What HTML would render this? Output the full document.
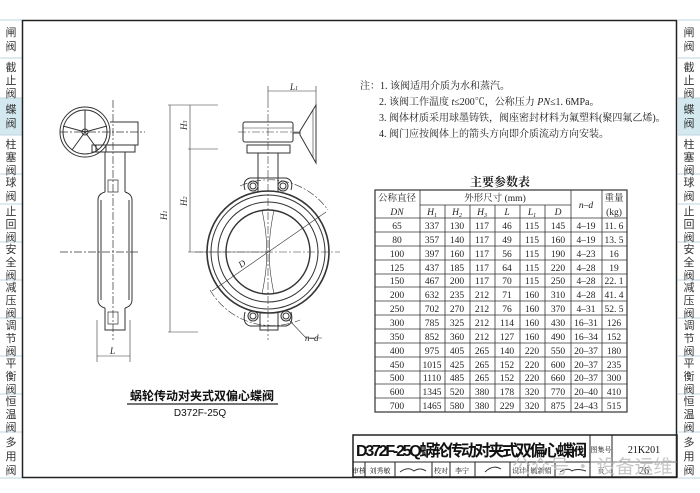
<!DOCTYPE html>
<html><head><meta charset="utf-8"><style>
html,body{margin:0;padding:0;background:#fff;}
body{width:700px;height:493px;overflow:hidden;position:relative;font-family:"Liberation Serif","Noto Serif CJK SC","Noto Sans CJK SC",serif;}
svg{position:absolute;left:0;top:0;}
</style></head><body>
<svg width="700" height="493" viewBox="0 0 700 493" xmlns="http://www.w3.org/2000/svg" font-family="'Liberation Serif','Noto Serif CJK SC','Noto Sans CJK SC',serif" fill="none" stroke="#333">
<!-- sidebars -->
<g id="sb">
<rect x="0" y="98" width="22" height="37" fill="#d3e8ef" stroke="none"/>
<rect x="678" y="98" width="22" height="37" fill="#d3e8ef" stroke="none"/>
<g stroke="#bcd6e0" stroke-width="1">
<line x1="0" y1="20" x2="22" y2="20"/><line x1="0" y1="58" x2="22" y2="58"/><line x1="0" y1="98" x2="22" y2="98"/><line x1="0" y1="135" x2="22" y2="135"/><line x1="0" y1="174" x2="22" y2="174"/><line x1="0" y1="204" x2="22" y2="204"/><line x1="0" y1="242" x2="22" y2="242"/><line x1="0" y1="280" x2="22" y2="280"/><line x1="0" y1="318" x2="22" y2="318"/><line x1="0" y1="356" x2="22" y2="356"/><line x1="0" y1="394" x2="22" y2="394"/><line x1="0" y1="432" x2="22" y2="432"/><line x1="0" y1="478" x2="22" y2="478"/>
<line x1="678" y1="20" x2="700" y2="20"/><line x1="678" y1="58" x2="700" y2="58"/><line x1="678" y1="98" x2="700" y2="98"/><line x1="678" y1="135" x2="700" y2="135"/><line x1="678" y1="174" x2="700" y2="174"/><line x1="678" y1="204" x2="700" y2="204"/><line x1="678" y1="242" x2="700" y2="242"/><line x1="678" y1="280" x2="700" y2="280"/><line x1="678" y1="318" x2="700" y2="318"/><line x1="678" y1="356" x2="700" y2="356"/><line x1="678" y1="394" x2="700" y2="394"/><line x1="678" y1="432" x2="700" y2="432"/><line x1="678" y1="478" x2="700" y2="478"/>
</g>
<g fill="#333" stroke="none" font-size="11" text-anchor="middle" font-family="'Noto Sans CJK SC',sans-serif">
<text x="11" y="36">闸</text><text x="11" y="50">阀</text>
<text x="11" y="71">截</text><text x="11" y="84">止</text><text x="11" y="97">阀</text>
<text x="11" y="113">蝶</text><text x="11" y="127">阀</text>
<text x="11" y="148">柱</text><text x="11" y="161">塞</text><text x="11" y="174">阀</text>
<text x="11" y="186">球</text><text x="11" y="200">阀</text>
<text x="11" y="215">止</text><text x="11" y="228">回</text><text x="11" y="241">阀</text>
<text x="11" y="253">安</text><text x="11" y="266">全</text><text x="11" y="279">阀</text>
<text x="11" y="291">减</text><text x="11" y="304">压</text><text x="11" y="317">阀</text>
<text x="11" y="329">调</text><text x="11" y="342">节</text><text x="11" y="355">阀</text>
<text x="11" y="367">平</text><text x="11" y="380">衡</text><text x="11" y="393">阀</text>
<text x="11" y="405">恒</text><text x="11" y="418">温</text><text x="11" y="431">阀</text>
<text x="11" y="446">多</text><text x="11" y="460">用</text><text x="11" y="474">阀</text>
<g transform="translate(678,0)">
<text x="11" y="36">闸</text><text x="11" y="50">阀</text>
<text x="11" y="71">截</text><text x="11" y="84">止</text><text x="11" y="97">阀</text>
<text x="11" y="113">蝶</text><text x="11" y="127">阀</text>
<text x="11" y="148">柱</text><text x="11" y="161">塞</text><text x="11" y="174">阀</text>
<text x="11" y="186">球</text><text x="11" y="200">阀</text>
<text x="11" y="215">止</text><text x="11" y="228">回</text><text x="11" y="241">阀</text>
<text x="11" y="253">安</text><text x="11" y="266">全</text><text x="11" y="279">阀</text>
<text x="11" y="291">减</text><text x="11" y="304">压</text><text x="11" y="317">阀</text>
<text x="11" y="329">调</text><text x="11" y="342">节</text><text x="11" y="355">阀</text>
<text x="11" y="367">平</text><text x="11" y="380">衡</text><text x="11" y="393">阀</text>
<text x="11" y="405">恒</text><text x="11" y="418">温</text><text x="11" y="431">阀</text>
<text x="11" y="446">多</text><text x="11" y="460">用</text><text x="11" y="474">阀</text>
</g>
</g>
</g>
<!-- frame -->
<rect x="22.5" y="20.5" width="654" height="457" stroke="#222" stroke-width="1.5"/>

<!-- notes -->
<g fill="#222" stroke="none" font-size="10">
<text x="360" y="89">注：1. 该阀适用介质为水和蒸汽。</text>
<text x="379" y="105">2. 该阀工作温度 <tspan font-style="italic">t</tspan>≤200℃，公称压力 <tspan font-style="italic">PN</tspan>≤1. 6MPa。</text>
<text x="379" y="121">3. 阀体材质采用球墨铸铁，阀座密封材料为氟塑料(聚四氟乙烯)。</text>
<text x="379" y="137">4. 阀门应按阀体上的箭头方向即介质流动方向安装。</text>
<text x="500" y="186" font-size="12" font-weight="bold" text-anchor="middle">主要参数表</text>
</g>

<!-- table -->
<g stroke="#333" stroke-width="0.8">
<rect x="375" y="190" width="252" height="222" stroke-width="1.2"/>
<line x1="420" y1="190" x2="420" y2="412"/>
<line x1="445" y1="205" x2="445" y2="412"/>
<line x1="470" y1="205" x2="470" y2="412"/>
<line x1="495" y1="205" x2="495" y2="412"/>
<line x1="520" y1="205" x2="520" y2="412"/>
<line x1="545" y1="205" x2="545" y2="412"/>
<line x1="571" y1="190" x2="571" y2="412"/>
<line x1="602" y1="190" x2="602" y2="412"/>
<line x1="420" y1="205" x2="571" y2="205"/>
<line x1="375" y1="218" x2="627" y2="218"/>
<line x1="375" y1="232" x2="627" y2="232"/><line x1="375" y1="246" x2="627" y2="246"/><line x1="375" y1="260" x2="627" y2="260"/><line x1="375" y1="274" x2="627" y2="274"/><line x1="375" y1="287" x2="627" y2="287"/><line x1="375" y1="301" x2="627" y2="301"/><line x1="375" y1="315" x2="627" y2="315"/><line x1="375" y1="329" x2="627" y2="329"/><line x1="375" y1="343" x2="627" y2="343"/><line x1="375" y1="357" x2="627" y2="357"/><line x1="375" y1="371" x2="627" y2="371"/><line x1="375" y1="384" x2="627" y2="384"/><line x1="375" y1="398" x2="627" y2="398"/>
</g>
<g fill="#222" stroke="none" font-size="9.5" text-anchor="middle">
<text x="397" y="201">公称直径</text><text x="397" y="215" font-style="italic">DN</text>
<text x="495" y="201">外形尺寸 (mm)</text>
<text x="586" y="208" font-style="italic">n–d</text>
<text x="614" y="201">重量</text><text x="614" y="215">(kg)</text>
<g font-style="italic"><text x="432" y="215">H<tspan font-size="6" dy="2">1</tspan></text><text x="457" y="215">H<tspan font-size="6" dy="2">2</tspan></text><text x="482" y="215">H<tspan font-size="6" dy="2">3</tspan></text><text x="507" y="215">L</text><text x="532" y="215">L<tspan font-size="6" dy="2">1</tspan></text><text x="558" y="215">D</text></g>
</g>
<g fill="#222" stroke="none" font-size="9.5" text-anchor="middle">
<g transform="translate(0,229)"><text x="397">65</text><text x="432">337</text><text x="457">130</text><text x="482">117</text><text x="507">46</text><text x="532">115</text><text x="558">145</text><text x="586">4–19</text><text x="614">11. 6</text></g>
<g transform="translate(0,243)"><text x="397">80</text><text x="432">357</text><text x="457">140</text><text x="482">117</text><text x="507">49</text><text x="532">115</text><text x="558">160</text><text x="586">4–19</text><text x="614">13. 5</text></g>
<g transform="translate(0,257)"><text x="397">100</text><text x="432">397</text><text x="457">160</text><text x="482">117</text><text x="507">56</text><text x="532">115</text><text x="558">190</text><text x="586">4–23</text><text x="614">16</text></g>
<g transform="translate(0,271)"><text x="397">125</text><text x="432">437</text><text x="457">185</text><text x="482">117</text><text x="507">64</text><text x="532">115</text><text x="558">220</text><text x="586">4–28</text><text x="614">19</text></g>
<g transform="translate(0,284)"><text x="397">150</text><text x="432">467</text><text x="457">200</text><text x="482">117</text><text x="507">70</text><text x="532">115</text><text x="558">250</text><text x="586">4–28</text><text x="614">22. 1</text></g>
<g transform="translate(0,298)"><text x="397">200</text><text x="432">632</text><text x="457">235</text><text x="482">212</text><text x="507">71</text><text x="532">160</text><text x="558">310</text><text x="586">4–28</text><text x="614">41. 4</text></g>
<g transform="translate(0,312)"><text x="397">250</text><text x="432">702</text><text x="457">270</text><text x="482">212</text><text x="507">76</text><text x="532">160</text><text x="558">370</text><text x="586">4–31</text><text x="614">52. 5</text></g>
<g transform="translate(0,326)"><text x="397">300</text><text x="432">785</text><text x="457">325</text><text x="482">212</text><text x="507">114</text><text x="532">160</text><text x="558">430</text><text x="586">16–31</text><text x="614">126</text></g>
<g transform="translate(0,340)"><text x="397">350</text><text x="432">852</text><text x="457">360</text><text x="482">212</text><text x="507">127</text><text x="532">160</text><text x="558">490</text><text x="586">16–34</text><text x="614">152</text></g>
<g transform="translate(0,354)"><text x="397">400</text><text x="432">975</text><text x="457">405</text><text x="482">265</text><text x="507">140</text><text x="532">220</text><text x="558">550</text><text x="586">20–37</text><text x="614">180</text></g>
<g transform="translate(0,368)"><text x="397">450</text><text x="432">1015</text><text x="457">425</text><text x="482">265</text><text x="507">152</text><text x="532">220</text><text x="558">600</text><text x="586">20–37</text><text x="614">235</text></g>
<g transform="translate(0,381)"><text x="397">500</text><text x="432">1110</text><text x="457">485</text><text x="482">265</text><text x="507">152</text><text x="532">220</text><text x="558">660</text><text x="586">20–37</text><text x="614">300</text></g>
<g transform="translate(0,395)"><text x="397">600</text><text x="432">1345</text><text x="457">520</text><text x="482">380</text><text x="507">178</text><text x="532">320</text><text x="558">770</text><text x="586">20–40</text><text x="614">410</text></g>
<g transform="translate(0,409)"><text x="397">700</text><text x="432">1465</text><text x="457">580</text><text x="482">380</text><text x="507">229</text><text x="532">320</text><text x="558">875</text><text x="586">24–43</text><text x="614">515</text></g>
</g>

<!-- title block -->
<g stroke="#222" stroke-width="1">
<rect x="353" y="435" width="324" height="42" stroke-width="1.5"/>
<line x1="353" y1="462" x2="590" y2="462"/>
<line x1="590" y1="435" x2="590" y2="477"/>
<line x1="612" y1="435" x2="612" y2="477"/>
<line x1="590" y1="462" x2="677" y2="462" stroke="#777"/>
<line x1="365" y1="462" x2="365" y2="477"/><line x1="395" y1="462" x2="395" y2="477"/><line x1="432" y1="462" x2="432" y2="477"/><line x1="450" y1="462" x2="450" y2="477"/><line x1="475" y1="462" x2="475" y2="477"/><line x1="510" y1="462" x2="510" y2="477"/><line x1="528" y1="462" x2="528" y2="477"/><line x1="555" y1="462" x2="555" y2="477"/>
</g>
<g fill="#111" stroke="none">
<text x="356" y="456" font-size="16" font-weight="bold" font-family="'Liberation Sans','Noto Sans CJK SC',sans-serif" textLength="231">D372F-25Q蜗轮传动对夹式双偏心蝶阀</text>
<text x="601" y="452" font-size="7" text-anchor="middle">图集号</text>
<text x="644" y="453" font-size="10" text-anchor="middle">21K201</text>
<g font-size="7" text-anchor="middle">
<text x="359" y="473">审核</text><text x="380" y="473">刘秀敏</text><text x="441" y="473">校对</text><text x="462" y="473">李宁</text><text x="519" y="473">设计</text><text x="541" y="473">毓新娟</text><text x="601" y="473">页</text></g>
<text x="644" y="474" font-size="10" text-anchor="middle">26</text>
<path d="M400 472 q8 -6 14 -1 q6 -4 12 0" stroke="#333" fill="none"/>
<path d="M485 472 q8 -8 16 -3" stroke="#333" fill="none"/>
<path d="M560 472 q8 -5 12 -1 q5 -3 14 0" stroke="#333" fill="none"/>
</g>
<text x="512" y="473" font-size="19" fill="#bbb" stroke="none" font-family="'Noto Sans CJK SC',sans-serif" opacity="0.8">公众号 · 设备运维</text>

<!-- left view -->
<g stroke="#333" stroke-width="1">
<circle cx="85" cy="132" r="25"/><circle cx="85" cy="132" r="22"/>
<circle cx="85" cy="132" r="3"/>
<line x1="85" y1="132" x2="63" y2="126"/><line x1="85" y1="132" x2="107" y2="126"/><line x1="85" y1="132" x2="72" y2="150"/><line x1="85" y1="132" x2="98" y2="150"/><line x1="85" y1="132" x2="85" y2="110"/>
<path d="M110 122 H138 V145 H110"/>
<line x1="92" y1="145" x2="135" y2="145"/>
<rect x="92" y="145" width="43" height="7"/>
<rect x="96" y="145" width="10" height="7"/>
<path d="M105 152 V192 M125 152 V192"/>
<path d="M105 192 Q98 194 98 200 V300 Q98 306 105 308 M125 192 Q132 194 132 200 V300 Q132 306 125 308"/>
<path d="M101 200 V300 M129 200 V300"/>
<path d="M105 308 V330 H125 V308"/>
<path d="M108 180 h10 v12 h-10z M108 312 h10 v12 h-10z" stroke-width="0.7"/>
<g stroke-dasharray="8 2 2 2" stroke-width="0.7"><line x1="113" y1="100" x2="113" y2="340"/><line x1="60" y1="252" x2="140" y2="252"/><line x1="60" y1="132" x2="145" y2="132"/></g>
<line x1="97" y1="320" x2="97" y2="362" stroke-width="0.6"/><line x1="130" y1="320" x2="130" y2="362" stroke-width="0.6"/>
<line x1="97" y1="356" x2="130" y2="356" stroke-width="0.6"/>
<!-- H dims -->
<g stroke-width="0.6">
<line x1="170" y1="105" x2="170" y2="332"/><line x1="190" y1="105" x2="190" y2="252"/>
<line x1="168" y1="105" x2="218" y2="105"/><line x1="188" y1="149" x2="218" y2="149"/><line x1="168" y1="332" x2="198" y2="332"/><line x1="188" y1="252" x2="268" y2="252"/>
</g>
</g>
<g fill="#222" stroke="none" font-size="9" font-style="italic">
<text x="110" y="354">L</text>
<text x="167" y="220" transform="rotate(-90 167 220)">H<tspan font-size="6">1</tspan></text>
<text x="187" y="130" transform="rotate(-90 187 130)">H<tspan font-size="6">3</tspan></text>
<text x="187" y="206" transform="rotate(-90 187 206)">H<tspan font-size="6">2</tspan></text>
<text x="290" y="90">L<tspan font-size="6">1</tspan></text>
<text x="241" y="268" transform="rotate(-35 241 268)">D</text>
<text x="305" y="341">n–d</text>
</g>
<!-- front view -->
<g stroke="#333" stroke-width="1">
<rect x="243" y="122" width="50" height="20" rx="2"/>
<line x1="243" y1="128" x2="293" y2="128" stroke-width="0.6"/>
<rect x="247" y="145" width="43" height="8"/>
<line x1="293" y1="133" x2="300" y2="133"/>
<path d="M300 131 L316 105 V163 L300 135 Z"/>
<line x1="313" y1="110" x2="313" y2="158" stroke-width="0.6"/>
<path d="M258 153 V192 M278 153 V192"/>
<path d="M245 190 Q242 180 250 178 H286 Q294 180 291 190"/>
<circle cx="253" cy="186" r="5"/><circle cx="253" cy="186" r="3"/>
<circle cx="283" cy="186" r="5"/><circle cx="283" cy="186" r="3"/>
<circle cx="268" cy="252" r="61" stroke-width="1.6"/>
<circle cx="268" cy="252" r="57"/>
<circle cx="268" cy="252" r="50"/>
<circle cx="268" cy="252" r="42" stroke-width="1.4"/>
<path d="M262 210 Q268 240 266 252 Q268 264 262 294 M274 210 Q268 240 270 252 Q268 264 274 294" stroke-width="0.6"/>
<path d="M245 312 Q242 324 250 326 H286 Q294 324 291 312"/>
<circle cx="253" cy="316" r="5"/><circle cx="253" cy="316" r="3"/>
<circle cx="286" cy="316" r="5"/><circle cx="286" cy="316" r="3"/>
<path d="M260 312 V330 H278 V312"/>
<g stroke-dasharray="8 2 2 2" stroke-width="0.6">
<line x1="268" y1="100" x2="268" y2="340"/><line x1="195" y1="252" x2="340" y2="252"/>
<line x1="238" y1="132" x2="300" y2="132"/>
<path d="M240 186 A72 72 0 0 1 328 210"/>
<path d="M210 290 A72 72 0 0 0 300 320"/>
</g>
<g stroke-width="0.6">
<line x1="212" y1="291" x2="326" y2="212"/>
<line x1="268" y1="86" x2="268" y2="100"/><line x1="316" y1="86" x2="316" y2="105"/>
<line x1="268" y1="91" x2="316" y2="91"/>
<path d="M289 320 L306 338 H322"/>
</g>
</g>
<!-- caption -->
<g fill="#111" stroke="none">
<text x="202" y="400" font-size="12" font-weight="bold" text-anchor="middle" font-family="'Noto Sans CJK SC',sans-serif">蜗轮传动对夹式双偏心蝶阀</text>
<text x="200" y="416" font-size="10" text-anchor="middle" font-family="'Liberation Sans',sans-serif">D372F-25Q</text>
</g>
<line x1="127" y1="404" x2="278" y2="404" stroke="#222" stroke-width="1.2"/>
</svg>
</body></html>
